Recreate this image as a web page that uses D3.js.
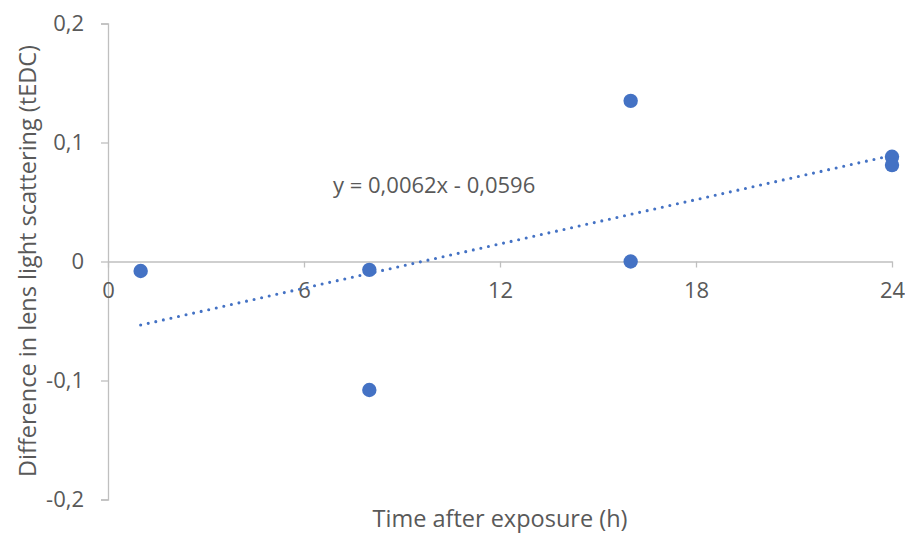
<!DOCTYPE html>
<html><head><meta charset="utf-8">
<script src="https://cdn.jsdelivr.net/npm/d3@7"></script>
<style>body{margin:0;background:#fff}svg{display:block}text{font-family:"Open Sans","Noto Sans",sans-serif;fill:#595959}</style>
</head><body><svg id="c" width="905" height="533"></svg>
<script>
const hours = [1, 8, 8, 16, 16, 24, 24];
const diffs = [-0.008, -0.007, -0.108, 0.135, 0.0, 0.088, 0.081];
const xTicks = [0, 6, 12, 18, 24];
const yTicks = [-0.2, -0.1, 0, 0.1, 0.2];
const trendCoef = [0.0062, -0.0596];
const eqLabel = "y = 0,0062x - 0,0596";
const xTitle = "Time after exposure (h)";
const yTitle = "Difference in lens light scattering (tEDC)";

const svg = d3.select("#c");
const x = d3.scaleLinear().domain([0, 24]).range([108, 892]);
const y = d3.scaleLinear().domain([-0.2, 0.2]).range([499.5, 23.5]);
const fmt = v => v === 0 ? "0" : d3.format(".1f")(v).replace(".", ",").replace("\u2212", "-");
const axisColor = "#bfbfbf";

// Y axis
const ya = svg.append("g").attr("transform", `translate(${x(0)},0)`)
  .call(d3.axisLeft(y).tickValues(yTicks).tickFormat(fmt).tickSize(7).tickPadding(17));
ya.select(".domain").attr("stroke", axisColor).attr("stroke-width", 1.3);
ya.selectAll(".tick line").attr("stroke", axisColor).attr("stroke-width", 1.3);
ya.selectAll("text").style("font-size", "22px").attr("fill", "#595959");

// X axis at y=0
const xa = svg.append("g").attr("transform", `translate(0,${y(0)})`)
  .call(d3.axisBottom(x).tickValues(xTicks).tickFormat(d3.format("d")).tickSize(6).tickSizeOuter(0).tickPadding(15));
xa.select(".domain").attr("stroke", axisColor).attr("stroke-width", 1.3);
xa.selectAll(".tick line").attr("stroke", axisColor).attr("stroke-width", 1.3);
xa.selectAll("text").style("font-size", "22px").attr("fill", "#595959");

// Trendline
const xs = [d3.min(hours), d3.max(hours)];
svg.append("line")
  .attr("x1", x(xs[0])).attr("y1", y(trendCoef[0] * xs[0] + trendCoef[1]))
  .attr("x2", x(xs[1])).attr("y2", y(trendCoef[0] * xs[1] + trendCoef[1]))
  .attr("stroke", "#4472c4").attr("stroke-width", 3.1)
  .attr("stroke-linecap", "round").attr("stroke-dasharray", "0 7.75");

// Points
svg.append("g").selectAll("circle").data(hours).join("circle")
  .attr("cx", d => x(d)).attr("cy", (d, i) => y(diffs[i])).attr("r", 7.2)
  .attr("fill", "#4472c4");

// Equation
svg.append("text").attr("x", 333).attr("y", 193).style("font-size", "22px").text(eqLabel);

// Titles
svg.append("text").attr("x", 500).attr("y", 527).attr("text-anchor", "middle")
  .style("font-size", "23.5px").text(xTitle);
svg.append("text").attr("transform", "translate(36,261) rotate(-90)").attr("text-anchor", "middle")
  .style("font-size", "23.5px").text(yTitle);
</script></body></html>
